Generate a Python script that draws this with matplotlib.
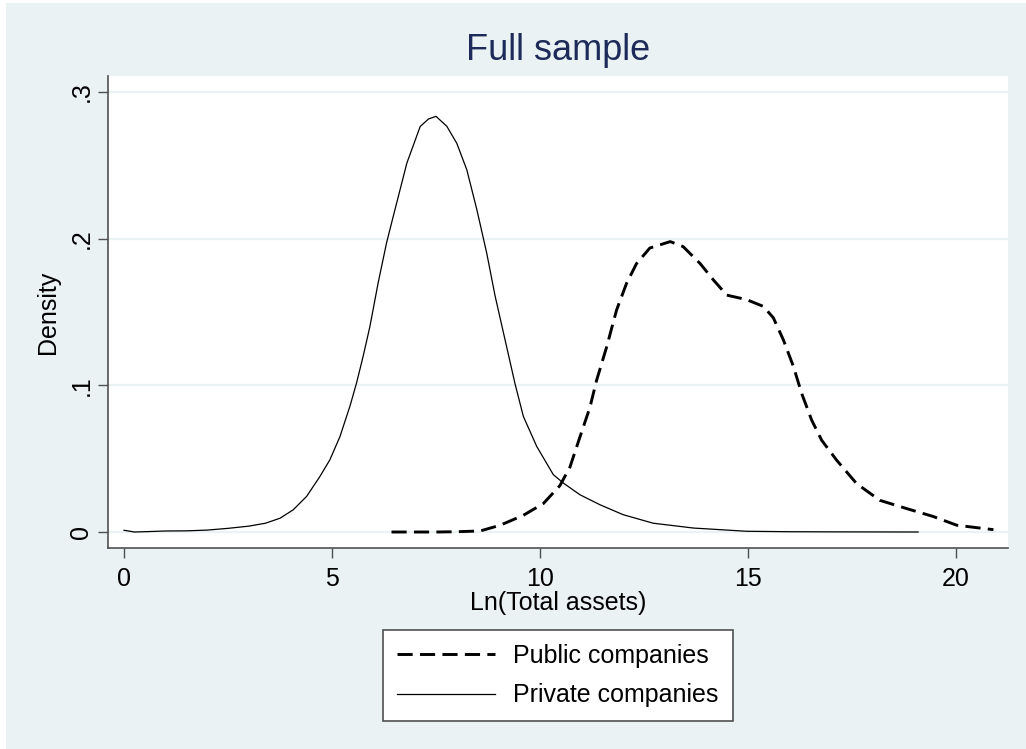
import matplotlib
matplotlib.use("Agg")
import matplotlib.pyplot as plt
from matplotlib.patches import Rectangle

# ---------------- data ----------------
private_x = [0.0, 0.25, 0.6, 1.0, 1.5, 2.0, 2.5, 3.0, 3.4, 3.75, 4.07, 4.39,
             4.71, 4.95, 5.19, 5.43, 5.59, 5.75, 5.91, 6.03, 6.11, 6.31, 6.47,
             6.80, 7.12, 7.32, 7.5, 7.76, 8.0, 8.24, 8.48, 8.72, 8.92, 9.2,
             9.4, 9.6, 9.92, 10.32, 10.56, 10.96, 11.44, 12.0, 12.72, 13.69,
             14.97, 16.0, 17.0, 19.09]
private_y = [0.0012, 0.0, 0.0003, 0.0007, 0.0008, 0.0013, 0.0025, 0.0040,
             0.0060, 0.0094, 0.0152, 0.0243, 0.0379, 0.0493, 0.065, 0.0857,
             0.1016, 0.12, 0.140, 0.158, 0.170, 0.197, 0.215, 0.2516, 0.2765,
             0.2816, 0.2834, 0.2766, 0.265, 0.247, 0.22, 0.19, 0.161, 0.126,
             0.101, 0.0788, 0.0584, 0.0391, 0.0334, 0.0254, 0.0186, 0.0118,
             0.006, 0.0027, 0.0005, 0.0002, 0.0001, 0.0]

public_x = [6.43, 7.0, 7.5, 8.0, 8.56, 9.04, 9.6, 10.08, 10.48, 10.72, 10.96,
            11.2, 11.36, 11.6, 11.84, 12.08, 12.32, 12.64, 13.13, 13.44,
            13.85, 14.17, 14.49, 14.97, 15.37, 15.61, 15.85, 16.09, 16.29,
            16.53, 16.77, 17.13, 17.61, 18.17, 18.81, 19.45, 20.02, 20.9]
public_y = [0.0, 0.0, 0.0, 0.0002, 0.0007, 0.0046, 0.0114, 0.0194, 0.0317,
            0.0443, 0.0648, 0.085, 0.1034, 0.126, 0.1513, 0.1695, 0.183,
            0.1936, 0.198, 0.1946, 0.183, 0.1718, 0.1615, 0.1584, 0.1538,
            0.146, 0.131, 0.113, 0.0945, 0.0763, 0.0626, 0.049, 0.033, 0.0216,
            0.016, 0.0106, 0.0046, 0.0016]

x_ticks = [0, 5, 10, 15, 20]
x_tick_labels = ["0", "5", "10", "15", "20"]
y_ticks = [0, 0.1, 0.2, 0.3]
y_tick_labels = ["0", ".1", ".2", ".3"]

title = "Full sample"
x_label = "Ln(Total assets)"
y_label = "Density"
series_labels = ["Public companies", "Private companies"]

# ---------------- style ----------------
plt.rcParams['font.family'] = ['Liberation Sans', 'DejaVu Sans']
BG = "#EAF2F3"
AXC = "#505050"
FS = 18

W, H = 1026, 749
fig = plt.figure(figsize=(W / 100, H / 100), dpi=100, facecolor="white")
fig.patches.append(Rectangle((6 / W, 0), 1 - 6 / W, 1 - 3 / H,
                             transform=fig.transFigure, facecolor=BG,
                             edgecolor="none", zorder=-10))

ax = fig.add_axes([108 / W, 1 - 548 / H, 900 / W, 472 / H])
ax.set_facecolor("white")

ax.plot(public_x, public_y, color="black", lw=2.1, linestyle=(0, (5.2, 2.5)),
        label=series_labels[0])
ax.plot(private_x, private_y, color="black", lw=0.9, linestyle="-",
        label=series_labels[1])

ax.set_xlim(-0.385, 21.25)
ax.set_ylim(-0.0109, 0.3109)

ax.set_yticks(y_ticks)
ax.set_yticklabels(y_tick_labels, rotation=90, va="center")
ax.set_xticks(x_ticks)
ax.set_xticklabels(x_tick_labels)

ax.yaxis.grid(True, color=BG, lw=1.6)
ax.set_axisbelow(True)

for s in ["top", "right"]:
    ax.spines[s].set_visible(False)
for s in ["left", "bottom"]:
    ax.spines[s].set_color(AXC)
    ax.spines[s].set_linewidth(1.2)

ax.tick_params(axis="both", direction="out", length=7.5, width=1.0,
               color=AXC, labelsize=FS, labelcolor="black")
ax.tick_params(axis="x", pad=6)
ax.tick_params(axis="y", pad=3)

ax.set_xlabel(x_label, fontsize=FS, labelpad=0)
ax.set_ylabel(y_label, fontsize=FS, labelpad=7)

fig.text(558 / W, 1 - 51 / H, title, fontsize=26, color="#1E2B5A",
         ha="center", va="center")

leg = ax.legend(loc="center", bbox_to_anchor=(558 / W, 1 - 675.5 / H),
                bbox_transform=fig.transFigure, frameon=True, fancybox=False,
                fontsize=FS, handlelength=3.9, handletextpad=0.75,
                labelspacing=0.62, borderpad=0.55, borderaxespad=0)
fr = leg.get_frame()
fr.set_edgecolor(AXC)
fr.set_linewidth(1.2)
fr.set_facecolor("white")
fr.set_alpha(1)

fig.savefig("out.png", dpi=100, facecolor=fig.get_facecolor())
